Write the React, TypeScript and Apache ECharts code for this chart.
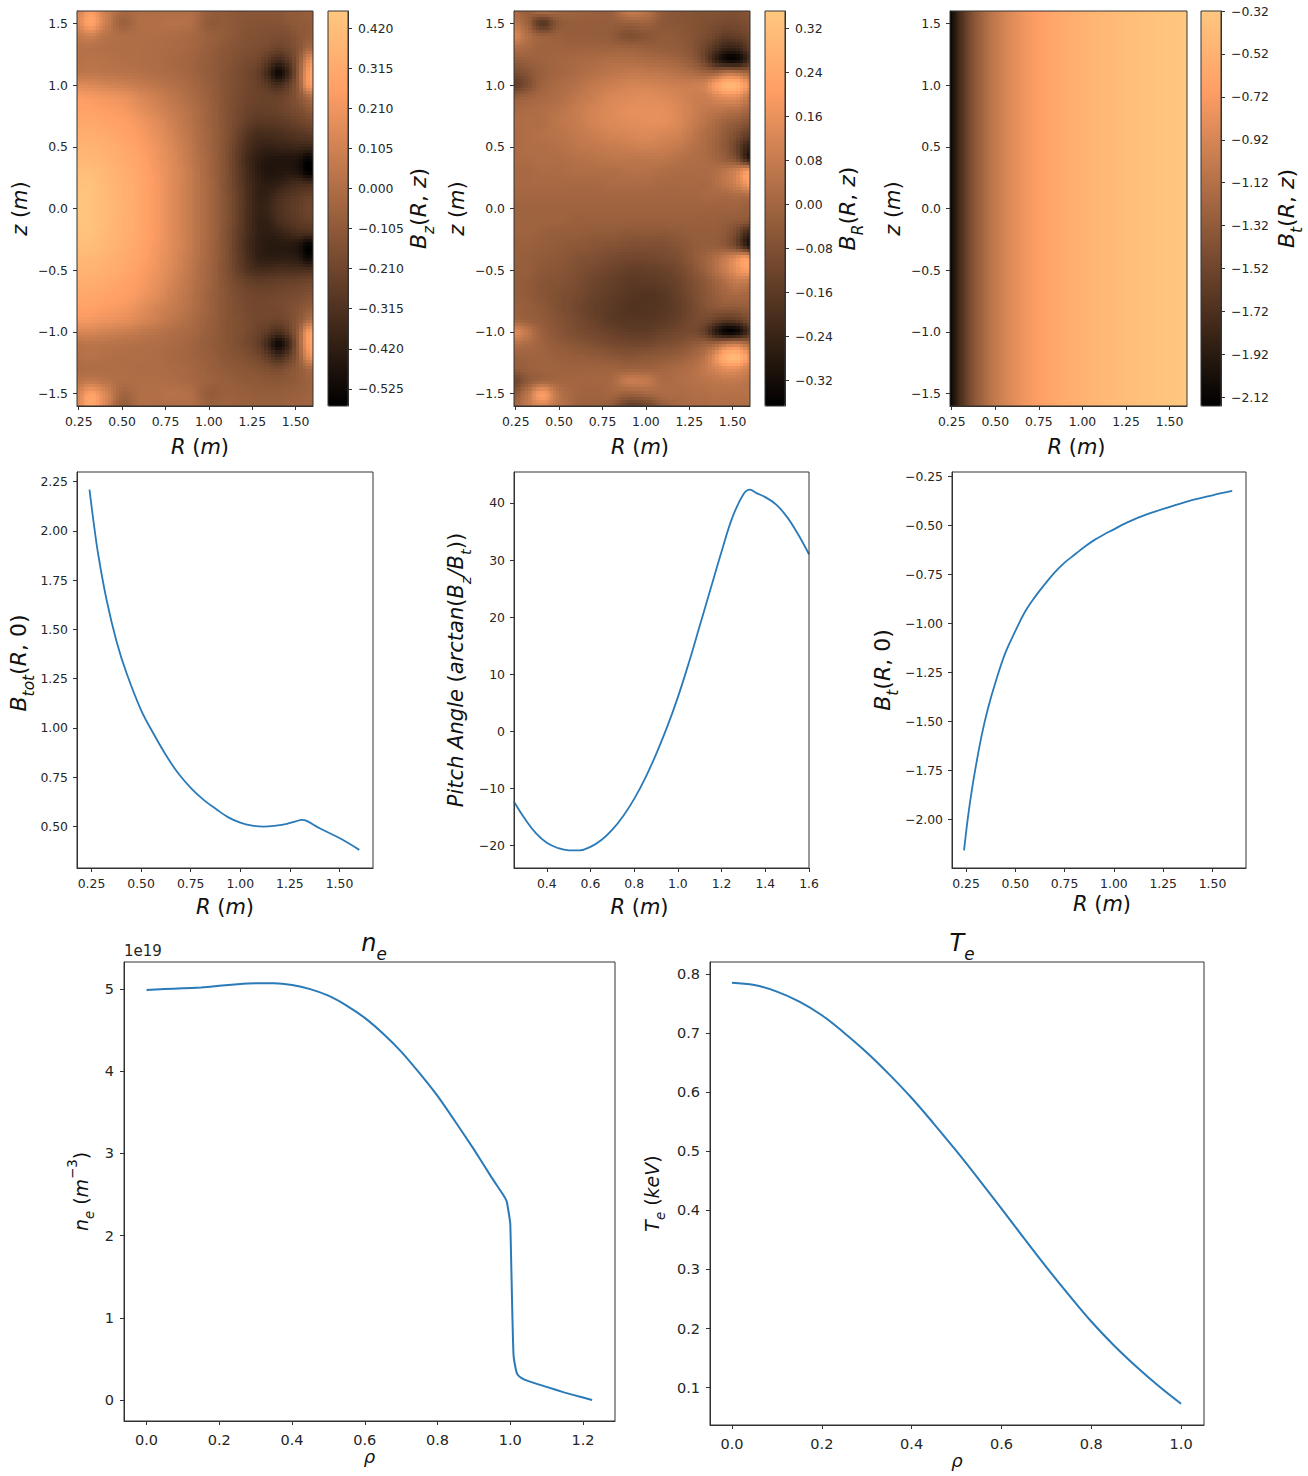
import React, { useEffect, useRef } from "react";
import * as echarts from "echarts";

const rNodes = [0.24, 0.32, 0.4, 0.5, 0.6, 0.7, 0.8, 0.9, 1.0, 1.1, 1.2, 1.28, 1.34, 1.4, 1.46, 1.52, 1.56, 1.6];
const zNodes = [1.6, 1.5, 1.4, 1.3, 1.2, 1.1, 1.0, 0.9, 0.8, 0.7, 0.6, 0.5, 0.4, 0.3, 0.2, 0.1, 0, -0.1, -0.2, -0.3, -0.4, -0.5, -0.6, -0.7, -0.8, -0.9, -1.0, -1.1, -1.2, -1.3, -1.4, -1.5, -1.6];

const bzValues = [
  [.12,.24,.10,-.02,.00,.00,.00,.00,-.08,-.10,-.12,-.12,-.12,-.12,-.10,-.10,-.08,-.08],
  [.14,.28,.10,-.06,.00,.01,.02,.00,-.10,-.10,-.13,-.14,-.14,-.14,-.12,-.10,-.10,-.08],
  [.06,.10,.03,.00,.00,.00,-.01,-.03,-.07,-.10,-.14,-.15,-.16,-.17,-.16,-.12,-.10,-.08],
  [.02,.02,.01,.00,.00,-.01,-.02,-.04,-.08,-.12,-.15,-.17,-.19,-.22,-.19,-.13,-.05,-.02],
  [.02,.03,.02,.01,.00,-.01,-.03,-.05,-.09,-.13,-.17,-.20,-.27,-.35,-.27,-.10,.10,.20],
  [.04,.05,.04,.03,.02,.00,-.02,-.05,-.09,-.14,-.19,-.24,-.36,-.52,-.36,-.08,.18,.30],
  [.15,.14,.12,.10,.07,.04,.01,-.03,-.08,-.14,-.19,-.23,-.28,-.34,-.25,-.08,.18,.26],
  [.24,.23,.21,.19,.14,.09,.04,-.01,-.07,-.14,-.20,-.22,-.23,-.23,-.19,-.12,-.04,.02],
  [.27,.27,.25,.23,.18,.12,.07,.01,-.06,-.14,-.21,-.24,-.24,-.23,-.20,-.17,-.13,-.10],
  [.30,.30,.28,.26,.22,.16,.09,.02,-.06,-.14,-.23,-.28,-.28,-.27,-.25,-.22,-.20,-.18],
  [.33,.33,.31,.28,.24,.18,.11,.03,-.05,-.14,-.27,-.34,-.34,-.33,-.31,-.29,-.28,-.26],
  [.36,.36,.34,.31,.26,.20,.13,.04,-.05,-.15,-.30,-.38,-.40,-.39,-.38,-.37,-.38,-.38],
  [.39,.38,.36,.32,.28,.21,.14,.05,-.04,-.15,-.32,-.42,-.45,-.46,-.46,-.48,-.54,-.52],
  [.42,.41,.38,.34,.29,.22,.15,.06,-.04,-.15,-.31,-.42,-.46,-.46,-.45,-.48,-.56,-.56],
  [.44,.43,.39,.35,.30,.23,.15,.06,-.03,-.15,-.30,-.40,-.43,-.41,-.37,-.34,-.34,-.34],
  [.45,.44,.40,.35,.30,.23,.15,.06,-.03,-.14,-.29,-.40,-.40,-.34,-.30,-.27,-.25,-.24],
  [.46,.44,.40,.36,.30,.23,.15,.06,-.03,-.14,-.29,-.39,-.38,-.32,-.28,-.25,-.22,-.21],
  [.45,.44,.40,.35,.30,.23,.15,.06,-.03,-.14,-.29,-.40,-.40,-.34,-.30,-.27,-.25,-.24],
  [.44,.43,.39,.35,.30,.23,.15,.06,-.03,-.15,-.30,-.40,-.42,-.40,-.36,-.33,-.33,-.33],
  [.42,.41,.38,.34,.29,.22,.15,.06,-.04,-.15,-.31,-.41,-.44,-.44,-.44,-.47,-.55,-.54],
  [.39,.38,.36,.32,.28,.21,.14,.05,-.04,-.15,-.30,-.40,-.42,-.42,-.42,-.44,-.52,-.50],
  [.36,.36,.34,.31,.26,.20,.13,.04,-.05,-.15,-.28,-.34,-.34,-.33,-.33,-.33,-.33,-.33],
  [.33,.33,.31,.28,.24,.18,.11,.03,-.05,-.14,-.22,-.25,-.25,-.24,-.23,-.22,-.21,-.20],
  [.30,.30,.28,.26,.22,.16,.09,.02,-.06,-.13,-.19,-.21,-.21,-.20,-.19,-.18,-.16,-.15],
  [.27,.27,.25,.23,.18,.12,.07,.01,-.06,-.13,-.18,-.20,-.20,-.19,-.17,-.14,-.11,-.09],
  [.23,.22,.20,.18,.14,.09,.04,-.01,-.07,-.13,-.17,-.20,-.21,-.22,-.18,-.11,-.03,.03],
  [.13,.13,.11,.09,.06,.03,.00,-.03,-.08,-.13,-.17,-.22,-.27,-.33,-.24,-.06,.18,.27],
  [.03,.04,.03,.02,.01,.00,-.02,-.05,-.09,-.13,-.18,-.24,-.36,-.52,-.36,-.06,.20,.30],
  [.01,.02,.01,.00,.00,-.01,-.03,-.05,-.08,-.12,-.15,-.19,-.26,-.34,-.25,-.08,.12,.22],
  [-.01,.00,.00,.00,-.01,-.01,-.02,-.04,-.07,-.10,-.12,-.14,-.16,-.18,-.14,-.09,-.04,-.01],
  [.03,.06,.03,.00,.00,.00,-.01,-.03,-.06,-.08,-.10,-.11,-.12,-.12,-.11,-.09,-.07,-.05],
  [.12,.26,.14,-.04,.00,.01,.02,.00,-.09,-.07,-.08,-.09,-.09,-.09,-.08,-.07,-.06,-.05],
  [.14,.30,.14,-.08,.00,.00,.00,.00,-.06,-.06,-.07,-.07,-.07,-.07,-.06,-.06,-.05,-.05],
];

const brValues = [
  [.02,-.02,.03,.00,-.01,-.02,-.02,.08,.05,-.04,-.06,-.07,-.07,-.07,-.08,-.08,-.07,-.06],
  [.06,-.02,-.17,-.05,-.03,-.03,-.03,-.02,-.01,-.05,-.06,-.07,-.08,-.09,-.10,-.10,-.09,-.08],
  [.12,.03,-.02,-.02,-.03,-.03,-.04,-.08,-.06,-.04,-.05,-.07,-.09,-.12,-.15,-.14,-.13,-.10],
  [.03,.01,-.01,-.01,-.01,-.01,-.01,-.01,-.02,-.03,-.04,-.07,-.12,-.18,-.24,-.24,-.20,-.14],
  [-.03,-.02,-.01,.00,.01,.02,.03,.03,.02,.01,-.01,-.05,-.12,-.24,-.33,-.34,-.28,-.18],
  [-.10,-.06,-.02,.00,.02,.04,.06,.07,.07,.06,.04,.02,.00,.00,.05,.05,.02,.00],
  [-.15,-.08,-.01,.02,.04,.07,.09,.11,.11,.10,.09,.09,.11,.20,.28,.28,.22,.14],
  [-.03,-.01,.01,.03,.06,.09,.12,.13,.14,.13,.11,.09,.09,.12,.15,.15,.11,.06],
  [.01,.02,.03,.05,.08,.11,.13,.15,.15,.15,.12,.09,.07,.06,.05,.04,.02,.00],
  [.02,.03,.03,.06,.08,.11,.13,.14,.15,.15,.12,.08,.05,.02,-.01,-.03,-.05,-.07],
  [.02,.03,.04,.05,.07,.09,.11,.12,.13,.12,.10,.06,.03,.00,-.04,-.08,-.12,-.15],
  [.02,.03,.03,.04,.06,.07,.08,.09,.10,.09,.07,.04,.02,-.01,-.05,-.12,-.20,-.26],
  [.02,.02,.03,.03,.04,.05,.06,.06,.06,.06,.04,.03,.02,.00,-.03,-.08,-.18,-.28],
  [.01,.01,.02,.02,.03,.03,.03,.04,.04,.03,.02,.02,.02,.03,.06,.10,.16,.20],
  [.01,.01,.01,.01,.01,.01,.02,.02,.02,.01,.01,.01,.01,.03,.06,.10,.15,.20],
  [.00,.00,.00,.00,.00,.00,.00,.00,.00,.00,.00,.00,.01,.01,.01,.02,.02,.03],
  [-.01,-.01,-.01,-.01,-.01,-.01,-.01,-.01,-.01,-.01,-.01,-.01,-.01,-.01,-.01,-.01,-.02,-.02],
  [-.01,-.01,-.01,-.01,-.02,-.02,-.02,-.02,-.02,-.02,-.02,-.02,-.02,-.02,-.03,-.04,-.05,-.06],
  [-.01,-.01,-.02,-.03,-.03,-.04,-.04,-.05,-.05,-.05,-.04,-.03,-.03,-.03,-.05,-.10,-.18,-.24],
  [-.02,-.02,-.03,-.04,-.05,-.06,-.07,-.08,-.08,-.08,-.06,-.04,-.03,-.03,-.05,-.11,-.20,-.29],
  [-.02,-.03,-.04,-.05,-.07,-.08,-.10,-.11,-.11,-.10,-.08,-.04,-.01,.03,.08,.14,.19,.18],
  [-.03,-.03,-.05,-.06,-.08,-.10,-.12,-.14,-.14,-.13,-.10,-.06,-.02,.03,.09,.15,.19,.20],
  [-.03,-.04,-.06,-.07,-.09,-.12,-.14,-.16,-.16,-.15,-.12,-.08,-.05,-.01,.03,.07,.07,.05],
  [-.03,-.04,-.06,-.08,-.10,-.13,-.15,-.17,-.18,-.17,-.13,-.09,-.06,-.03,.00,.01,.01,.00],
  [-.02,-.03,-.05,-.08,-.11,-.14,-.16,-.18,-.18,-.17,-.14,-.10,-.07,-.05,-.04,-.04,-.03,-.03],
  [.00,-.02,-.04,-.07,-.10,-.13,-.16,-.17,-.17,-.16,-.13,-.10,-.10,-.13,-.16,-.15,-.12,-.08],
  [.14,.06,-.02,-.06,-.09,-.11,-.13,-.15,-.15,-.13,-.11,-.10,-.14,-.26,-.35,-.34,-.27,-.17],
  [.04,.02,-.01,-.04,-.06,-.08,-.10,-.11,-.11,-.09,-.07,-.04,-.02,.00,.06,.08,.05,.01],
  [-.02,-.01,-.01,-.02,-.03,-.04,-.05,-.06,-.05,-.04,-.02,.01,.05,.15,.27,.30,.24,.15],
  [-.04,-.02,-.01,-.01,-.01,-.01,-.01,-.01,-.01,.00,.02,.04,.07,.11,.15,.15,.12,.09],
  [-.12,-.04,.00,.00,.00,.00,.01,.08,.07,.02,.03,.04,.05,.06,.07,.07,.06,.05],
  [-.05,.06,.20,.05,.00,-.01,.00,-.02,.00,.02,.02,.03,.03,.04,.04,.04,.04,.04],
  [.00,.07,.12,.05,-.01,-.02,-.04,-.14,-.12,-.03,.01,.02,.02,.03,.03,.03,.03,.03],
];

const btR = [0.24,0.26,0.28,0.30,0.33,0.36,0.40,0.45,0.50,0.55,0.60,0.65,0.70,0.75,0.80,0.85,0.90,0.95,1.0,1.05,1.1,1.15,1.2,1.3,1.4,1.5,1.6];
const btV = [-2.16,-1.99,-1.85,-1.73,-1.57,-1.44,-1.30,-1.15,-1.04,-0.94,-0.865,-0.80,-0.74,-0.69,-0.65,-0.61,-0.575,-0.546,-0.52,-0.493,-0.47,-0.45,-0.432,-0.40,-0.37,-0.346,-0.324];
const btZ = [1.6, -1.6];

const btotR = [0.24,0.26,0.284,0.326,0.376,0.427,0.5,0.56,0.629,0.69,0.755,0.82,0.881,0.94,1.0,1.06,1.117,1.18,1.235,1.28,1.31,1.335,1.4,1.5,1.6];
const btotV = [2.21,2.05,1.88,1.65,1.44,1.277,1.09,0.975,0.855,0.765,0.69,0.63,0.585,0.545,0.518,0.503,0.498,0.503,0.512,0.525,0.532,0.527,0.49,0.44,0.38];

const pitchR = [0.25,0.3,0.35,0.4,0.45,0.5,0.55,0.6,0.65,0.7,0.75,0.8,0.85,0.9,0.95,1.0,1.05,1.1,1.15,1.2,1.25,1.3,1.33,1.36,1.4,1.45,1.5,1.55,1.6];
const pitchV = [-12.3,-15.3,-17.8,-19.5,-20.4,-20.8,-20.8,-20.2,-19,-17.2,-14.8,-11.8,-8.2,-4,0.7,6,12,18.5,25,31.5,37.5,41.5,42.3,41.7,41,39.7,37.5,34.5,31];

const neRho = [0,0.05,0.1,0.15,0.2,0.25,0.3,0.35,0.4,0.45,0.5,0.55,0.6,0.65,0.7,0.75,0.8,0.85,0.9,0.95,0.98,0.99,0.995,1.0,1.003,1.006,1.009,1.015,1.02,1.03,1.05,1.1,1.15,1.2,1.225];
const neV = [4.99,5.0,5.01,5.02,5.04,5.06,5.07,5.07,5.05,5.0,4.92,4.8,4.65,4.46,4.24,3.98,3.7,3.38,3.05,2.7,2.5,2.42,2.3,2.15,1.6,1.0,0.55,0.38,0.31,0.27,0.23,0.16,0.09,0.03,0.0];

const teRho = [0,0.05,0.1,0.15,0.2,0.25,0.3,0.35,0.4,0.45,0.5,0.55,0.6,0.65,0.7,0.75,0.8,0.85,0.9,0.95,1.0];
const teV = [0.785,0.781,0.77,0.753,0.73,0.70,0.667,0.63,0.59,0.546,0.50,0.452,0.403,0.353,0.304,0.257,0.212,0.172,0.136,0.103,0.073];

const rTicks = [0.25,0.5,0.75,1.0,1.25,1.5];
const zTicks = [-1.5,-1.0,-0.5,0,0.5,1.0,1.5];
const bzBarTicks = [-0.525,-0.42,-0.315,-0.21,-0.105,0,0.105,0.21,0.315,0.42];
const brBarTicks = [-0.32,-0.24,-0.16,-0.08,0,0.08,0.16,0.24,0.32];
const btBarTicks = [-2.12,-1.92,-1.72,-1.52,-1.32,-1.12,-0.92,-0.72,-0.52,-0.32];
const btotTicks = [0.5,0.75,1.0,1.25,1.5,1.75,2.0,2.25];
const pitchXTicks = [0.4,0.6,0.8,1.0,1.2,1.4,1.6];
const pitchYTicks = [-20,-10,0,10,20,30,40];
const btYTicks = [-2.0,-1.75,-1.5,-1.25,-1.0,-0.75,-0.5,-0.25];
const neXTicks = [0,0.2,0.4,0.6,0.8,1.0,1.2];
const neYTicks = [0,1,2,3,4,5];
const teXTicks = [0,0.2,0.4,0.6,0.8,1.0];
const teYTicks = [0.1,0.2,0.3,0.4,0.5,0.6,0.7,0.8];

const FONT = "DejaVu Sans";
const INK = "#262626";
const SPINE = "#333333";
const LINE = "#2a7ab8";
const COPPER_STOPS = ["#000000", "#402819", "#805033", "#bf774c", "#ff9f65", "#ffc77f"];

function copper(t: number) {
  const c = Math.max(0, Math.min(1, t));
  return `rgb(${Math.round(255 * Math.min(1, 1.25 * c))},${Math.round(199.2 * c)},${Math.round(126.9 * c)})`;
}

const fmt = (d: number) => (v: number) => v.toFixed(d).replace("-", "\u2212");

function richStyles(size: number) {
  const lh = Math.round(size * 1.6);
  return {
    i: { fontFamily: FONT, fontStyle: "italic", fontWeight: "normal", fontSize: size, color: "#111", lineHeight: lh },
    n: { fontFamily: FONT, fontWeight: "normal", fontSize: size, color: "#111", lineHeight: lh },
    s: { fontFamily: FONT, fontStyle: "italic", fontWeight: "normal", fontSize: size * 0.7, color: "#111", lineHeight: size * 0.7, verticalAlign: "bottom" },
    u: { fontFamily: FONT, fontWeight: "normal", fontSize: size * 0.7, color: "#111", lineHeight: size * 0.7, verticalAlign: "top" },
  };
}

function valueAxis(opts: any) {
  const { ticks, decimals, min, max, gridIndex, name, gap, size = 12.4, nameSize = 21, position, nameRotate, namePad, margin = 9 } = opts;
  return {
    type: "value",
    gridIndex,
    min,
    max,
    position,
    name,
    nameLocation: "middle",
    nameGap: gap,
    nameRotate,
    nameTextStyle: { rich: richStyles(nameSize), padding: namePad },
    splitLine: { show: false },
    axisLine: { show: true, onZero: false, lineStyle: { color: SPINE, width: 1 } },
    axisTick: { show: true, length: 4, inside: false, customValues: ticks, lineStyle: { color: SPINE, width: 1 } },
    axisLabel: {
      customValues: ticks,
      formatter: fmt(decimals),
      fontFamily: FONT,
      fontSize: size,
      color: INK,
      margin,
      hideOverlap: false,
    },
  };
}

const clampI = (i: number, n: number) => Math.max(0, Math.min(n - 1, i));
function catmull(p0: number, p1: number, p2: number, p3: number, t: number) {
  return 0.5 * (2 * p1 + (p2 - p0) * t + (2 * p0 - 5 * p1 + 4 * p2 - p3) * t * t + (3 * p1 - p0 - 3 * p2 + p3) * t * t * t);
}
function sampleGrid(vals: number[][], i: number, j: number, fx: number, fy: number) {
  const rows = vals.length, cols = vals[0].length;
  const atRow = (rj: number) => {
    const row = vals[clampI(rj, rows)];
    return catmull(row[clampI(i - 1, cols)], row[clampI(i, cols)], row[clampI(i + 1, cols)], row[clampI(i + 2, cols)], fx);
  };
  return catmull(atRow(j - 1), atRow(j), atRow(j + 1), atRow(j + 2), fy);
}

function cellData(rs: number[], zs: number[], vals: number[][]) {
  const out: number[][] = [];
  for (let j = 0; j < zs.length - 1; j++) {
    for (let i = 0; i < rs.length - 1; i++) {
      out.push([rs[i], zs[j], rs[i + 1], zs[j + 1], vals[j][i], i, j]);
    }
  }
  return out;
}

function cellSeries(gridIdx: number, vals: number[][], rs: number[], zs: number[], vmin: number, vmax: number, stepX: number, stepY: number) {
  return {
    type: "custom",
    coordinateSystem: "cartesian2d",
    xAxisIndex: gridIdx,
    yAxisIndex: gridIdx,
    clip: true,
    silent: true,
    encode: { x: [0, 2], y: [1, 3] },
    data: cellData(rs, zs, vals),
    renderItem: (_p: any, api: any) => {
      const a = api.coord([api.value(0), api.value(1)]);
      const b = api.coord([api.value(2), api.value(3)]);
      const i = api.value(5);
      const j = api.value(6);
      const nx = Math.max(1, Math.round((b[0] - a[0]) / stepX));
      const ny = Math.max(1, Math.round((b[1] - a[1]) / stepY));
      const w = (b[0] - a[0]) / nx;
      const h = (b[1] - a[1]) / ny;
      const children: any[] = [];
      for (let iy = 0; iy < ny; iy++) {
        const y0 = Math.round(a[1] + iy * h);
        const y1 = Math.round(a[1] + (iy + 1) * h);
        if (y1 <= y0) continue;
        for (let ix = 0; ix < nx; ix++) {
          const x0 = Math.round(a[0] + ix * w);
          const x1 = Math.round(a[0] + (ix + 1) * w);
          if (x1 <= x0) continue;
          const val = sampleGrid(vals, i, j, (ix + 0.5) / nx, (iy + 0.5) / ny);
          children.push({
            type: "rect",
            shape: { x: x0, y: y0, width: x1 - x0, height: y1 - y0 },
            style: { fill: copper((val - vmin) / (vmax - vmin)) },
          });
        }
      }
      return { type: "group", children };
    },
  };
}

const BLANK_X = (gridIndex: number) => ({ type: "value", gridIndex, min: 0, max: 1, show: false });

export default function App() {
  const ref = useRef<HTMLDivElement>(null);
  useEffect(() => {
    document.body.style.margin = "0";
    const chart = echarts.init(ref.current!, null, { renderer: "svg" });

    const T = 11, H = 395;
    const heatLefts = [77, 514, 950];
    const heatW = [236, 236, 237];
    const barLefts = [328, 765, 1201];
    const ranges = [[-0.57, 0.465], [-0.367, 0.352], [-2.16, -0.32]];
    const grids: any[] = [];
    const xAxes: any[] = [];
    const yAxes: any[] = [];
    const series: any[] = [];
    const grid = (left: number, top: number, width: number, height: number) => ({ left, top, width, height, show: true, z: 5, borderColor: SPINE, borderWidth: 1, backgroundColor: "transparent" });

    const yLabel = "{i|z}{n| (}{i|m}{n|)}";
    const xLabel = "{i|R}{n| (}{i|m}{n|)}";
    const heatPad = [10, 16, 16];
    heatLefts.forEach((l, k) => {
      grids.push(grid(l, T, heatW[k], H));
      xAxes.push(valueAxis({ gridIndex: k, min: 0.24, max: 1.6, ticks: rTicks, decimals: 2, name: xLabel, gap: 24, position: "bottom", namePad: [0, 0, 0, heatPad[k]] }));
      yAxes.push(valueAxis({ gridIndex: k, min: -1.6, max: 1.6, ticks: zTicks, decimals: 1, name: yLabel, gap: 40, position: "left" }));
    });
    series.push(cellSeries(0, bzValues, rNodes, zNodes, ranges[0][0], ranges[0][1], 3, 3));
    series.push(cellSeries(1, brValues, rNodes, zNodes, ranges[1][0], ranges[1][1], 3, 3));
    series.push(cellSeries(2, [btV, btV], btR, btZ, ranges[2][0], ranges[2][1], 1, 400));

    const barNames = ["{i|B}{s|z}{n|(}{i|R}{n|, }{i|z}{n|)}", "{i|B}{s|R}{n|(}{i|R}{n|, }{i|z}{n|)}", "{i|B}{s|t}{n|(}{i|R}{n|, }{i|z}{n|)}"];
    const barTicks = [bzBarTicks, brBarTicks, btBarTicks];
    const barDec = [3, 2, 2];
    const barGap = [52, 45, 48];
    barLefts.forEach((l, k) => {
      const g = k + 3;
      grids.push(grid(l, T, 20, H));
      xAxes.push(BLANK_X(g));
      yAxes.push(valueAxis({ gridIndex: g, min: ranges[k][0], max: ranges[k][1], ticks: barTicks[k], decimals: barDec[k], name: barNames[k], gap: barGap[k], position: "right", nameRotate: 90, nameSize: 22, margin: 10 }));
    });

    grids.push(grid(77, 472, 296, 396));
    xAxes.push(valueAxis({ gridIndex: 6, min: 0.177, max: 1.669, ticks: rTicks, decimals: 2, name: xLabel, gap: 22 }));
    yAxes.push(valueAxis({ gridIndex: 6, min: 0.288, max: 2.299, ticks: btotTicks, decimals: 2, name: "{i|B}{s|tot}{n|(}{i|R}{n|, 0)}", gap: 41, nameSize: 22, namePad: [0, 0, 0, 14] }));
    grids.push(grid(514, 472, 295, 396));
    xAxes.push(valueAxis({ gridIndex: 7, min: 0.25, max: 1.6, ticks: pitchXTicks, decimals: 1, name: xLabel, gap: 22, namePad: [0, 44, 0, 0] }));
    yAxes.push(valueAxis({ gridIndex: 7, min: -23.9, max: 45.4, ticks: pitchYTicks, decimals: 0, name: "{i|Pitch Angle }{n|(}{i|arctan}{n|(}{i|B}{s|z}{i|/B}{s|t}{n|))}", gap: 41, nameSize: 21 }));
    grids.push(grid(952, 472, 294, 396));
    xAxes.push(valueAxis({ gridIndex: 8, min: 0.179, max: 1.67, ticks: rTicks, decimals: 2, name: xLabel, gap: 19, namePad: [0, 0, 0, 6] }));
    yAxes.push(valueAxis({ gridIndex: 8, min: -2.25, max: -0.227, ticks: btYTicks, decimals: 2, name: "{i|B}{s|t}{n|(}{i|R}{n|, 0)}", gap: 52, nameSize: 22 }));

    const zip = (a: number[], b: number[]) => a.map((x, i) => [x, b[i]]);
    const lineSeries = (idx: number, d: number[][], width = 1.8, smooth = 0.4) => ({
      type: "line",
      xAxisIndex: idx,
      yAxisIndex: idx,
      data: d,
      showSymbol: false,
      smooth,
      lineStyle: { color: LINE, width },
      z: 3,
    });
    series.push(lineSeries(6, zip(btotR, btotV)));
    series.push(lineSeries(7, zip(pitchR, pitchV)));
    series.push(lineSeries(8, zip(btR, btV)));

    grids.push(grid(124, 962, 491, 459));
    xAxes.push(valueAxis({ gridIndex: 9, min: -0.062, max: 1.288, ticks: neXTicks, decimals: 1, name: "{i|\u03c1}", gap: 21, size: 14.5, nameSize: 18, margin: 11 }));
    yAxes.push(valueAxis({ gridIndex: 9, min: -0.255, max: 5.33, ticks: neYTicks, decimals: 0, name: "{i|n}{s|e}{n| (}{i|m}{u|\u22123}{n|)}", gap: 28, size: 14.5, nameSize: 19, margin: 10 }));
    grids.push(grid(710, 962, 494, 463));
    xAxes.push(valueAxis({ gridIndex: 10, min: -0.049, max: 1.051, ticks: teXTicks, decimals: 1, name: "{i|\u03c1}", gap: 21, size: 14.5, nameSize: 18, margin: 11 }));
    yAxes.push(valueAxis({ gridIndex: 10, min: 0.037, max: 0.82, ticks: teYTicks, decimals: 1, name: "{i|T}{s|e}{n| (}{i|keV}{n|)}", gap: 43, size: 14.5, nameSize: 19, margin: 10 }));
    series.push(lineSeries(9, zip(neRho, neV), 2, 0.12));
    series.push(lineSeries(10, zip(teRho, teV), 2));

    const visualMap = barLefts.map((l, k) => ({
      type: "continuous",
      show: true,
      seriesIndex: k,
      dimension: 4,
      min: ranges[k][0],
      max: ranges[k][1],
      left: l,
      top: T,
      itemWidth: 20,
      itemHeight: H,
      padding: 0,
      calculable: false,
      realtime: false,
      hoverLink: false,
      silent: true,
      inRange: { color: COPPER_STOPS },
      outOfRange: { color: COPPER_STOPS },
    }));

    chart.setOption({
      animation: false,
      backgroundColor: "#ffffff",
      textStyle: { fontFamily: FONT },
      title: [
        { text: "{i|n}{s|e}", left: 369, top: 919, textAlign: "center", textStyle: { fontWeight: "normal", rich: richStyles(24) } },
        { text: "{i|T}{s|e}", left: 957, top: 919, textAlign: "center", textStyle: { fontWeight: "normal", rich: richStyles(24) } },
      ],
      graphic: [
        { type: "text", left: 124, top: 943, style: { text: "1e19", fontFamily: FONT, fontSize: 15, fill: INK } },
      ],
      grid: grids,
      xAxis: xAxes,
      yAxis: yAxes,
      visualMap,
      series,
    });
    return () => chart.dispose();
  }, []);
  return <div ref={ref} style={{ position: "absolute", left: 0, top: 0, width: 1308, height: 1476 }} />;
}
